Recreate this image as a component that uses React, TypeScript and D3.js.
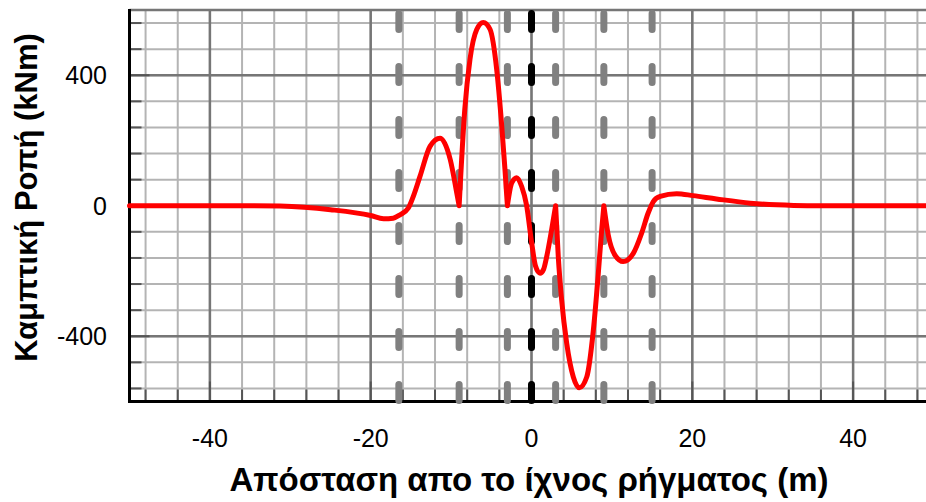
import React from "react";
import * as d3 from "d3";

// Bending moment along the pipeline, distance from the fault trace (m) vs moment (kNm)
const distance = [
  -50, -35, -31.3, -25, -20, -18.4, -17.2, -16.36, -15.32, -14.7, -13.87, -12.62, -11.38, -10.1, -9.3, -9,
  -8.3, -7.65, -6.8, -6.0, -5.16, -4.33, -3.7, -3.3, -3,
  -2.46, -1.84, -1.22, -0.6, 0, 0.5, 1.06, 1.5, 1.89, 2.5, 3,
  3.33, 3.75, 4.38, 5.2, 5.95, 6.87, 7.69, 8.31, 8.73, 9,
  9.55, 10.4, 11.4, 12.66, 13.7, 14.5, 15.15, 16, 18.06, 20.1, 23, 27.2, 32.6, 36, 50,
];
const moment = [
  0, 0, -1, -12, -30, -40, -38, -28, -7, 29, 90, 182, 207, 141, 40, 0,
  295, 449, 541, 562, 541, 418, 244, 111, 0,
  70, 86, 59, 0, -110, -185, -207, -195, -156, -74, 0,
  -156, -289, -422, -525, -558, -525, -382, -207, -74, 0,
  -90, -152, -171, -146, -84, -23, 13, 29, 37, 31, 21, 8, 1, 0, 0,
];
// points where the moment diagram has a sharp corner
const kinkDistances = [-9, -3, 3, 9];

// vertical reference lines
const supportLines = [-16.5, -9, -3, 3, 9, 15];
const faultTrace = 0;

const xTickLabels = [-40, -20, 0, 20, 40];
const yTickLabels = [-400, 0, 400];

const W = 926;
const H = 502;
const FONT = "'Liberation Sans', Arial, Helvetica, sans-serif";

export default function App() {
  const x = d3.scaleLinear().domain([-50, 50]).range([129.5, 933.5]);
  const y = d3.scaleLinear().domain([-600, 600]).range([401.5, 10]);

  const xMinor = d3.range(-48, 50, 4);
  const yMinor = d3.range(-560, 561, 80);

  // split into smooth pieces at the kinks
  const pts: [number, number][] = distance.map((d, i) => [d, moment[i]]);
  const segments: [number, number][][] = [];
  let cur: [number, number][] = [];
  pts.forEach((p) => {
    cur.push(p);
    if (kinkDistances.includes(p[0])) {
      segments.push(cur);
      cur = [p];
    }
  });
  if (cur.length > 1) segments.push(cur);

  const line = d3
    .line<[number, number]>()
    .x((d) => x(d[0]))
    .y((d) => y(d[1]))
    .curve(d3.curveMonotoneX);
  const pathD = segments.map((s) => line(s)).join("");

  const [x0] = x.range();
  const [yBottom, yTop] = y.range();

  return (
    <svg
      width={W}
      height={H}
      style={{ position: "absolute", left: 0, top: 0, background: "#fff" }}
    >
      {/* minor grid */}
      {xMinor.map((v) => (
        <line key={"gx" + v} x1={x(v)} x2={x(v)} y1={yTop} y2={yBottom} stroke="#b4b4b4" strokeWidth={2} />
      ))}
      {yMinor.map((v) => (
        <line key={"gy" + v} x1={x0} x2={W} y1={y(v)} y2={y(v)} stroke="#b4b4b4" strokeWidth={2} />
      ))}
      {/* major grid */}
      {xTickLabels.map((v) => (
        <line key={"Gx" + v} x1={x(v)} x2={x(v)} y1={yTop} y2={yBottom} stroke="#767676" strokeWidth={2.5} />
      ))}
      {yTickLabels.map((v) => (
        <line key={"Gy" + v} x1={x0} x2={W} y1={y(v)} y2={y(v)} stroke="#767676" strokeWidth={2.5} />
      ))}
      <line x1={x0} x2={W} y1={yTop} y2={yTop} stroke="#767676" strokeWidth={2.5} />

      {/* ticks */}
      {xMinor.map((v) => (
        <line
          key={"tx" + v}
          x1={x(v)}
          x2={x(v)}
          y1={yBottom}
          y2={yBottom - (xTickLabels.includes(v) ? 20 : 12)}
          stroke="#555"
          strokeWidth={2}
        />
      ))}
      {yMinor.map((v) => (
        <line
          key={"ty" + v}
          x1={x0}
          x2={x0 + (yTickLabels.includes(v) ? 20 : 12)}
          y1={y(v)}
          y2={y(v)}
          stroke="#555"
          strokeWidth={2}
        />
      ))}

      {/* axis lines */}
      <line x1={x0} x2={x0} y1={yTop - 1} y2={yBottom + 1.5} stroke="#000" strokeWidth={3} />
      <line x1={x0} x2={W} y1={yBottom} y2={yBottom} stroke="#000" strokeWidth={3} />

      {/* tick labels */}
      {xTickLabels.map((v) => (
        <text key={"lx" + v} x={x(v)} y={447} textAnchor="middle" fontFamily={FONT} fontSize={25} fill="#000">
          {v}
        </text>
      ))}
      {yTickLabels.map((v) => (
        <text key={"ly" + v} x={107} y={y(v) + 9} textAnchor="end" fontFamily={FONT} fontSize={25} fill="#000">
          {v}
        </text>
      ))}

      {/* vertical reference lines */}
      {supportLines.map((v) => (
        <line
          key={"s" + v}
          x1={x(v)}
          x2={x(v)}
          y1={yTop + 3.5}
          y2={yBottom}
          stroke="#808080"
          strokeWidth={7}
          strokeDasharray="16 37"
          strokeLinecap="round"
        />
      ))}
      <line
        x1={x(faultTrace)}
        x2={x(faultTrace)}
        y1={yTop + 3.5}
        y2={yBottom}
        stroke="#000"
        strokeWidth={7}
        strokeDasharray="16 37"
        strokeLinecap="round"
      />

      {/* moment curve */}
      <path d={pathD} fill="none" stroke="#ff0000" strokeWidth={5} strokeLinejoin="round" strokeLinecap="round" />

      {/* axis titles */}
      <text
        x={529}
        y={491}
        textAnchor="middle"
        fontFamily={FONT}
        fontWeight="bold"
        fontSize={33}
        fill="#000"
      >
        Απόσταση απο το ίχνος ρήγματος (m)
      </text>
      <text
        transform="translate(37,197.5) rotate(-90)"
        textAnchor="middle"
        fontFamily={FONT}
        fontWeight="bold"
        fontSize={31}
        fill="#000"
      >
        Καμπτική Ροπή (kNm)
      </text>
    </svg>
  );
}
